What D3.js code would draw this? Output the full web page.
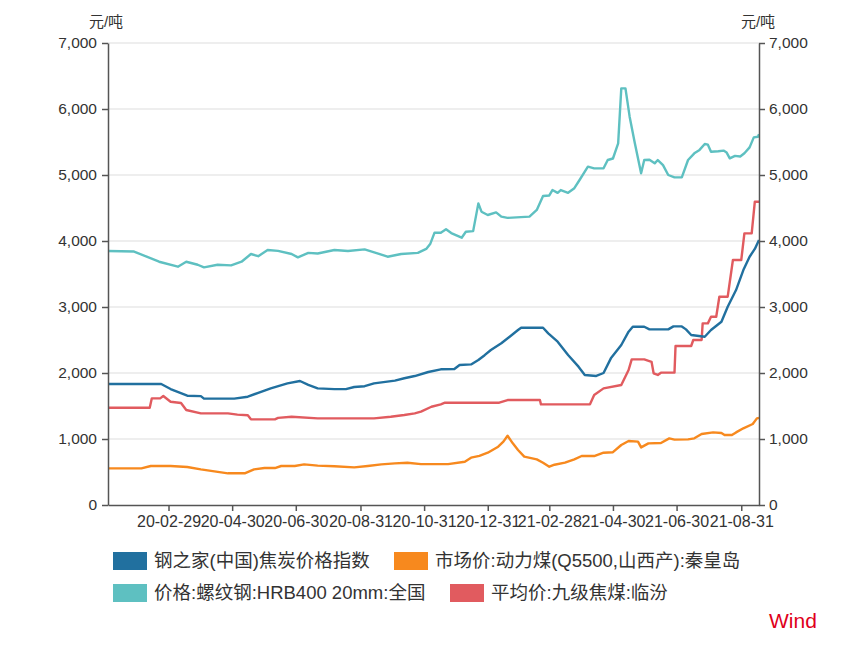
<!DOCTYPE html>
<html>
<head>
<meta charset="utf-8">
<script src="https://cdn.jsdelivr.net/npm/d3@7"></script>
<style>
  html, body { margin: 0; padding: 0; background: #fff; }
  svg text { font-family: "Liberation Sans", "Noto Sans CJK SC", sans-serif; }
</style>
</head>
<body>
<div id="chart"></div>
<script>
// series, [date, 元/吨]
const cokeIndex = [
  ["2020-01-02", 1833], ["2020-02-22", 1833], ["2020-03-02", 1757], ["2020-03-18", 1656],
  ["2020-03-31", 1650], ["2020-04-03", 1611], ["2020-05-02", 1611], ["2020-05-15", 1641],
  ["2020-05-25", 1700], ["2020-06-06", 1767], ["2020-06-22", 1843], ["2020-07-04", 1879],
  ["2020-07-12", 1820], ["2020-07-21", 1767], ["2020-08-06", 1755], ["2020-08-17", 1755],
  ["2020-08-25", 1788], ["2020-09-04", 1800], ["2020-09-13", 1843], ["2020-10-03", 1884],
  ["2020-10-12", 1920], ["2020-10-22", 1954], ["2020-11-04", 2015], ["2020-11-16", 2056],
  ["2020-11-29", 2060], ["2020-12-04", 2121], ["2020-12-15", 2130], ["2020-12-22", 2197],
  ["2020-12-28", 2270], ["2021-01-03", 2348], ["2021-01-13", 2450], ["2021-01-21", 2550],
  ["2021-01-29", 2651], ["2021-02-01", 2686], ["2021-02-22", 2686], ["2021-02-27", 2601],
  ["2021-03-08", 2474], ["2021-03-18", 2273], ["2021-03-28", 2096], ["2021-04-03", 1970],
  ["2021-04-14", 1955], ["2021-04-21", 2000], ["2021-04-28", 2222], ["2021-05-08", 2424],
  ["2021-05-15", 2626], ["2021-05-19", 2701], ["2021-05-30", 2701], ["2021-06-04", 2661],
  ["2021-06-22", 2661], ["2021-06-27", 2706], ["2021-07-05", 2706], ["2021-07-09", 2661],
  ["2021-07-14", 2576], ["2021-07-27", 2550], ["2021-08-02", 2651], ["2021-08-12", 2777],
  ["2021-08-18", 3005], ["2021-08-26", 3257], ["2021-09-02", 3560], ["2021-09-08", 3762],
  ["2021-09-13", 3880], ["2021-09-17", 4015]
];

const thermalCoal = [
  ["2020-01-02", 555], ["2020-02-03", 555], ["2020-02-12", 591], ["2020-03-02", 591],
  ["2020-03-18", 575], ["2020-03-31", 540], ["2020-04-13", 510], ["2020-04-26", 480],
  ["2020-05-12", 480], ["2020-05-21", 540], ["2020-05-31", 560], ["2020-06-10", 560],
  ["2020-06-16", 591], ["2020-06-29", 591], ["2020-07-08", 616], ["2020-07-21", 596],
  ["2020-08-06", 586], ["2020-08-25", 570], ["2020-09-07", 591], ["2020-09-20", 616],
  ["2020-10-03", 631], ["2020-10-15", 640], ["2020-10-28", 620], ["2020-11-23", 620],
  ["2020-12-09", 656], ["2020-12-15", 717], ["2020-12-23", 745], ["2020-12-31", 792],
  ["2021-01-10", 883], ["2021-01-15", 960], ["2021-01-19", 1050], ["2021-01-24", 934],
  ["2021-01-29", 833], ["2021-02-04", 732], ["2021-02-16", 692], ["2021-02-22", 640],
  ["2021-02-28", 580], ["2021-03-05", 610], ["2021-03-15", 641], ["2021-03-24", 692],
  ["2021-03-31", 742], ["2021-04-12", 742], ["2021-04-21", 792], ["2021-04-30", 800],
  ["2021-05-08", 909], ["2021-05-15", 970], ["2021-05-24", 960], ["2021-05-27", 873],
  ["2021-06-03", 934], ["2021-06-15", 940], ["2021-06-23", 1010], ["2021-06-28", 990],
  ["2021-07-11", 995], ["2021-07-17", 1010], ["2021-07-24", 1076], ["2021-08-04", 1101],
  ["2021-08-12", 1090], ["2021-08-15", 1060], ["2021-08-22", 1060], ["2021-08-26", 1100],
  ["2021-09-02", 1162], ["2021-09-11", 1227], ["2021-09-15", 1313], ["2021-09-17", 1320]
];

const rebar = [
  ["2020-01-02", 3848], ["2020-01-27", 3840], ["2020-02-20", 3686], ["2020-03-09", 3611],
  ["2020-03-17", 3686], ["2020-03-28", 3640], ["2020-04-03", 3600], ["2020-04-16", 3640],
  ["2020-04-29", 3630], ["2020-05-09", 3686], ["2020-05-18", 3803], ["2020-05-25", 3770],
  ["2020-06-03", 3863], ["2020-06-13", 3850], ["2020-06-26", 3803], ["2020-07-02", 3752],
  ["2020-07-12", 3820], ["2020-07-21", 3810], ["2020-08-06", 3863], ["2020-08-19", 3848],
  ["2020-09-04", 3873], ["2020-09-17", 3810], ["2020-09-26", 3762], ["2020-10-09", 3803],
  ["2020-10-25", 3820], ["2020-11-02", 3880], ["2020-11-06", 3960], ["2020-11-10", 4126],
  ["2020-11-16", 4126], ["2020-11-21", 4177], ["2020-11-26", 4120], ["2020-12-06", 4050],
  ["2020-12-10", 4141], ["2020-12-17", 4150], ["2020-12-22", 4570], ["2020-12-25", 4444],
  ["2020-12-31", 4394], ["2021-01-08", 4434], ["2021-01-13", 4369], ["2021-01-19", 4350],
  ["2021-02-09", 4369], ["2021-02-16", 4470], ["2021-02-22", 4681], ["2021-02-28", 4690],
  ["2021-03-03", 4772], ["2021-03-08", 4730], ["2021-03-11", 4772], ["2021-03-18", 4731],
  ["2021-03-24", 4800], ["2021-03-29", 4924], ["2021-04-06", 5126], ["2021-04-12", 5100],
  ["2021-04-21", 5101], ["2021-04-25", 5227], ["2021-04-30", 5250], ["2021-05-05", 5480],
  ["2021-05-08", 6313], ["2021-05-12", 6313], ["2021-05-16", 5884], ["2021-05-21", 5480],
  ["2021-05-27", 5025], ["2021-05-30", 5227], ["2021-06-04", 5230], ["2021-06-09", 5177],
  ["2021-06-12", 5227], ["2021-06-17", 5150], ["2021-06-22", 5000], ["2021-06-28", 4964],
  ["2021-07-05", 4964], ["2021-07-11", 5227], ["2021-07-17", 5328], ["2021-07-22", 5380],
  ["2021-07-27", 5469], ["2021-07-30", 5460], ["2021-08-02", 5353], ["2021-08-09", 5360],
  ["2021-08-14", 5370], ["2021-08-17", 5340], ["2021-08-20", 5252], ["2021-08-25", 5290],
  ["2021-08-30", 5280], ["2021-09-03", 5330], ["2021-09-08", 5419], ["2021-09-12", 5570],
  ["2021-09-16", 5580], ["2021-09-17", 5620]
];

const cokingCoal = [
  ["2020-01-02", 1474], ["2020-02-11", 1474], ["2020-02-13", 1616], ["2020-02-21", 1616],
  ["2020-02-24", 1651], ["2020-03-02", 1565], ["2020-03-12", 1545], ["2020-03-17", 1439],
  ["2020-03-31", 1389], ["2020-04-26", 1389], ["2020-05-05", 1370], ["2020-05-15", 1360],
  ["2020-05-18", 1298], ["2020-06-10", 1298], ["2020-06-13", 1320], ["2020-06-26", 1338],
  ["2020-07-21", 1313], ["2020-09-13", 1313], ["2020-09-29", 1338], ["2020-10-12", 1363],
  ["2020-10-22", 1389], ["2020-10-28", 1414], ["2020-11-07", 1489], ["2020-11-16", 1525],
  ["2020-11-20", 1550], ["2021-01-11", 1550], ["2021-01-19", 1590], ["2021-02-19", 1590],
  ["2021-02-20", 1525], ["2021-04-08", 1525], ["2021-04-12", 1666], ["2021-04-21", 1767],
  ["2021-05-08", 1818], ["2021-05-15", 2045], ["2021-05-18", 2207], ["2021-05-30", 2207],
  ["2021-06-06", 2170], ["2021-06-08", 1995], ["2021-06-12", 1970], ["2021-06-15", 2005],
  ["2021-06-28", 2005], ["2021-06-29", 2409], ["2021-07-14", 2409], ["2021-07-16", 2500],
  ["2021-07-24", 2500], ["2021-07-25", 2752], ["2021-07-30", 2752], ["2021-08-02", 2853],
  ["2021-08-07", 2853], ["2021-08-10", 3156], ["2021-08-18", 3156], ["2021-08-23", 3712],
  ["2021-08-31", 3712], ["2021-09-03", 4116], ["2021-09-10", 4116], ["2021-09-13", 4595],
  ["2021-09-17", 4595]
];

const seriesNames = [
  "钢之家(中国)焦炭价格指数",
  "市场价:动力煤(Q5500,山西产):秦皇岛",
  "价格:螺纹钢:HRB400 20mm:全国",
  "平均价:九级焦煤:临汾"
];
const seriesColors = ["#21709f", "#f7891e", "#5ec0c1", "#e15b5f"];
const xTickDates = [
  "2020-02-29", "2020-04-30", "2020-06-30", "2020-08-31", "2020-10-31",
  "2020-12-31", "2021-02-28", "2021-04-30", "2021-06-30", "2021-08-31"
];
const yTicks = [0, 1000, 2000, 3000, 4000, 5000, 6000, 7000];
const unitLabel = "元/吨";
const dateRange = ["2020-01-02", "2021-09-17"];

const W = 866, H = 650;
const plot = { left: 108, right: 759, top: 43, bottom: 505 };
const parse = d3.timeParse("%Y-%m-%d");
const axisColor = "#555";

const svg = d3.select("#chart").append("svg")
  .attr("width", W)
  .attr("height", H);

const x = d3.scaleTime()
  .domain(dateRange.map(parse))
  .range([plot.left, plot.right]);

const y = d3.scaleLinear()
  .domain([0, 7000])
  .range([plot.bottom, plot.top]);

// gridlines
svg.append("g")
  .selectAll("line")
  .data(yTicks.filter(d => d > 0))
  .join("line")
  .attr("x1", plot.left)
  .attr("x2", plot.right)
  .attr("y1", d => y(d))
  .attr("y2", d => y(d))
  .attr("stroke", "#dedede")
  .attr("stroke-width", 1.2);

// lines
const allSeries = [cokeIndex, thermalCoal, rebar, cokingCoal];
const line = d3.line()
  .x(d => x(parse(d[0])))
  .y(d => y(d[1]));

// draw order: teal at back, then orange, red, blue on top
[2, 1, 3, 0].forEach(i => {
  svg.append("path")
    .datum(allSeries[i])
    .attr("fill", "none")
    .attr("stroke", seriesColors[i])
    .attr("stroke-width", 2.4)
    .attr("stroke-linejoin", "round")
    .attr("d", line);
});

function styleAxis(g, size) {
  g.selectAll(".domain").attr("stroke", axisColor).attr("stroke-width", 1.5);
  g.selectAll(".tick line").attr("stroke", axisColor).attr("stroke-width", 1.5);
  g.selectAll(".tick text")
    .attr("fill", "#333")
    .style("font-size", size)
    .style("font-family", "'Liberation Sans', sans-serif");
}

const fmt = d3.format(",");

svg.append("g")
  .attr("transform", `translate(${plot.left},0)`)
  .call(d3.axisLeft(y).tickValues(yTicks).tickFormat(fmt).tickSize(6).tickSizeOuter(0).tickPadding(5))
  .call(styleAxis, "15.5px");

svg.append("g")
  .attr("transform", `translate(${plot.right},0)`)
  .call(d3.axisRight(y).tickValues(yTicks).tickFormat(fmt).tickSize(6).tickSizeOuter(0).tickPadding(4))
  .call(styleAxis, "15.5px");

svg.append("g")
  .attr("transform", `translate(0,${plot.bottom})`)
  .call(d3.axisBottom(x).tickValues(xTickDates.map(parse)).tickFormat(d3.timeFormat("%y-%m-%d")).tickSize(6).tickSizeOuter(0).tickPadding(5))
  .call(styleAxis, "16px");

// unit labels
svg.append("text")
  .attr("x", 106).attr("y", 27)
  .attr("text-anchor", "middle")
  .attr("fill", "#333")
  .style("font-size", "15px")
  .text(unitLabel);

svg.append("text")
  .attr("x", 758).attr("y", 27)
  .attr("text-anchor", "middle")
  .attr("fill", "#333")
  .style("font-size", "15px")
  .text(unitLabel);

// legend
const legendPos = [
  { x: 113, y: 552 }, { x: 394, y: 552 },
  { x: 113, y: 584 }, { x: 450, y: 584 }
];
const legend = svg.append("g").selectAll("g")
  .data(seriesNames)
  .join("g")
  .attr("transform", (d, i) => `translate(${legendPos[i].x},${legendPos[i].y})`);

legend.append("rect")
  .attr("width", 34)
  .attr("height", 18)
  .attr("fill", (d, i) => seriesColors[i]);

legend.append("text")
  .attr("x", 41)
  .attr("y", 9)
  .attr("dy", "0.35em")
  .attr("fill", "#333")
  .style("font-size", "18.5px")
  .text(d => d);

svg.append("text")
  .attr("x", 769).attr("y", 628)
  .attr("fill", "#e0001b")
  .style("font-size", "21px")
  .text("Wind");
</script>
</body>
</html>
